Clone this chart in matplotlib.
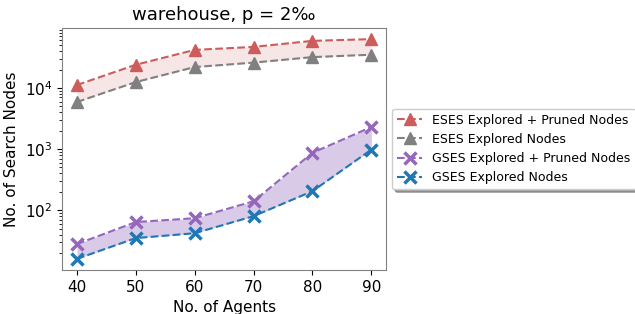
import matplotlib
matplotlib.use("Agg")
import matplotlib.pyplot as plt

agents = [40, 50, 60, 70, 80, 90]
eses_total = [11200, 24000, 42000, 47000, 59000, 63000]
eses_explored = [5900, 12500, 22000, 26000, 32000, 35000]
gses_total = [28, 64, 74, 140, 870, 2300]
gses_explored = [16, 35, 42, 80, 205, 980]

fig = plt.figure(figsize=(6.35, 3.14), dpi=100)
ax = fig.add_axes([0.098, 0.14, 0.51, 0.771])

ax.plot(agents, eses_total, '--', color='indianred', marker='^', markersize=9,
        label='ESES Explored + Pruned Nodes')
ax.plot(agents, eses_explored, '--', color='grey', marker='^', markersize=9,
        label='ESES Explored Nodes')
ax.fill_between(agents, eses_explored, eses_total, color='indianred', alpha=0.15, lw=0)

ax.plot(agents, gses_total, '--', color='tab:purple', marker='x', markersize=9,
        mew=2.5, label='GSES Explored + Pruned Nodes')
ax.plot(agents, gses_explored, '--', color='tab:blue', marker='x', markersize=9,
        mew=2.5, label='GSES Explored Nodes')
ax.fill_between(agents, gses_explored, gses_total, color='tab:purple', alpha=0.35, lw=0)

ax.set_yscale('log')
ax.set_ylim(10.5, 96000)
ax.set_xlim(37.5, 92.5)
ax.set_xticks(agents)
ax.tick_params(labelsize=11)
ax.set_xlabel('No. of Agents', fontsize=11)
ax.set_ylabel('No. of Search Nodes', fontsize=11)
ax.set_title('warehouse, p = 2‰', fontsize=13)
for s in ax.spines.values():
    s.set_color('grey')

ax.legend(loc='center left', bbox_to_anchor=(1.0, 0.5), fontsize=9, shadow=True)

fig.savefig('out.png', dpi=100)
